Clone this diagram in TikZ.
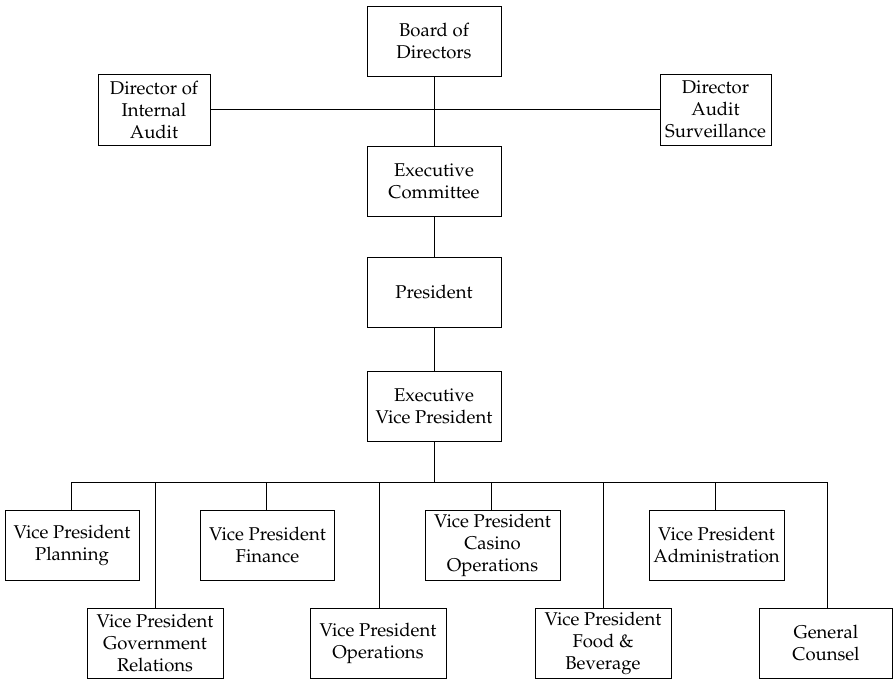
\documentclass[tikz,border=0pt]{standalone}
\usepackage[T1]{fontenc}
\usepackage{mathpazo}
\begin{document}
\begin{tikzpicture}[x=1pt,y=-1pt,
  box/.style={draw, line width=0.9pt, align=center, inner sep=0pt,
    minimum width=134pt, minimum height=70pt, font=\fontsize{18.5}{22}\selectfont},
  link/.style={line width=0.9pt}]
\useasboundingbox (0,0) rectangle (893,679);
% top level
\node[box] (board) at (434,41.5) {Board of\\Directors};
\node[box, minimum width=112pt, minimum height=71pt] (dia) at (154,109.5) {Director of\\Internal\\Audit};
\node[box, minimum width=111pt, minimum height=71pt] (das) at (715.5,109.5) {Director\\Audit\\Surveillance};
\node[box] (exec) at (434,181) {Executive\\Committee};
\node[box] (pres) at (434,292) {President};
\node[box] (evp) at (434,406) {Executive\\Vice President};
% vice presidents, upper row
\node[box] (plan) at (72,545) {Vice President\\Planning};
\node[box] (fin) at (267.5,545) {Vice President\\Finance};
\node[box, minimum width=135pt] (casino) at (492.5,545) {Vice President\\Casino\\Operations};
\node[box, minimum width=135pt] (admin) at (716.5,545) {Vice President\\Administration};
% vice presidents, lower row
\node[box, minimum width=136pt] (gov) at (155,643) {Vice President\\Government\\Relations};
\node[box, minimum width=136pt] (ops) at (378,643) {Vice President\\Operations};
\node[box, minimum width=136pt] (fb) at (603,643) {Vice President\\Food \&\\Beverage};
\node[box, minimum width=133pt] (gc) at (826,643) {General\\Counsel};
% connectors
\coordinate (bus) at (434,482);
\coordinate (busL) at (71,482);
\coordinate (busR) at (827,482);
\draw[link] (board) -- (exec);
\draw[link] (dia) -- (das);
\draw[link] (exec) -- (pres);
\draw[link] (pres) -- (evp);
\draw[link] (evp) -- (bus);
\draw[link] (busL) -- (busR);
\foreach \n/\x in {plan/71,gov/155,fin/266,ops/379,casino/491,fb/603,admin/715,gc/827}
  \draw[link] (\n.north -| \x,0) -- (bus -| \x,0);
\end{tikzpicture}
\end{document}
